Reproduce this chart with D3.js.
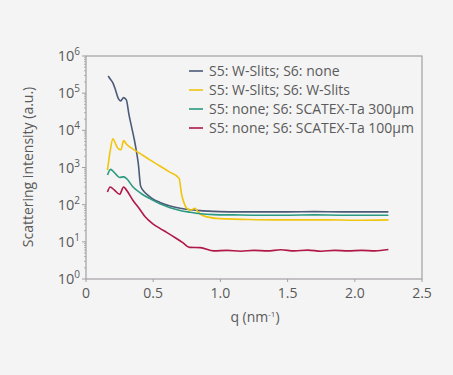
<!DOCTYPE html>
<html>
<head>
<meta charset="utf-8">
<script src="https://cdn.jsdelivr.net/npm/d3@7"></script>
<style>
  body { margin: 0; background: #f4f4f4; }
  svg { display: block; }
  text { font-family: "Open Sans", "DejaVu Sans", sans-serif; fill: #5a5a5a; }
</style>
</head>
<body>
<div id="chart"></div>
<script>
// q values (nm^-1) and intensities
const seriesNames = [
    "S5: W-Slits; S6: none",
    "S5: W-Slits; S6: W-Slits",
    "S5: none; S6: SCATEX-Ta 300\u03BCm",
    "S5: none; S6: SCATEX-Ta 100\u03BCm"
];
const seriesColors = ["#4b5b78", "#f1c40f", "#2b9a80", "#b01848"];

const wslitsNone = [
    [0.165, 2.9e5], [0.18, 2.4e5], [0.2, 1.9e5], [0.22, 1.2e5], [0.24, 7.2e4], [0.258, 6.2e4],
    [0.28, 7.6e4], [0.3, 6.6e4], [0.32, 2.6e4], [0.34, 1.2e4], [0.36, 5500], [0.376, 2600],
    [0.39, 1200], [0.406, 320], [0.43, 230], [0.46, 180], [0.5, 140], [0.55, 115],
    [0.62, 93], [0.7, 80], [0.78, 73], [0.85, 69], [0.95, 66], [1.1, 64], [1.3, 64],
    [1.5, 64], [1.7, 65], [1.9, 64], [2.1, 64], [2.25, 64]
];
const wslitsWslits = [
    [0.16, 850], [0.18, 2800], [0.2, 5900], [0.22, 4300], [0.24, 3200], [0.26, 3000],
    [0.28, 5300], [0.3, 4300], [0.34, 3300], [0.4, 2400], [0.475, 1600], [0.55, 1100],
    [0.62, 760], [0.693, 510], [0.71, 200], [0.73, 110], [0.75, 80], [0.78, 72],
    [0.81, 80], [0.83, 66], [0.85, 56], [0.9, 47], [1.0, 42], [1.2, 40], [1.4, 39],
    [1.6, 39], [1.8, 39], [2.0, 38], [2.25, 39]
];
const scatex300 = [
    [0.16, 630], [0.183, 890], [0.21, 740], [0.25, 540], [0.28, 560], [0.3, 510],
    [0.35, 300], [0.41, 200], [0.475, 145], [0.55, 105], [0.62, 84], [0.7, 70],
    [0.77, 63], [0.85, 57], [0.95, 54], [1.1, 53], [1.3, 52], [1.5, 52], [1.7, 53],
    [1.9, 52], [2.1, 52], [2.25, 52]
];
const scatex100 = [
    [0.16, 220], [0.18, 300], [0.21, 250], [0.25, 190], [0.28, 300], [0.3, 250],
    [0.35, 130], [0.4, 75], [0.44, 47], [0.5, 30], [0.55, 23], [0.6, 18], [0.67, 12.5],
    [0.72, 9.5], [0.77, 7.1], [0.85, 7.0], [0.95, 5.7], [1.05, 5.9], [1.15, 5.6],
    [1.25, 5.9], [1.35, 5.7], [1.45, 6.1], [1.55, 5.7], [1.65, 6.0], [1.75, 5.6],
    [1.85, 5.9], [1.95, 5.7], [2.05, 5.9], [2.15, 5.7], [2.25, 6.2]
];
const allSeries = [wslitsNone, wslitsWslits, scatex300, scatex100];

const xTicks = [0, 0.5, 1.0, 1.5, 2.0, 2.5];
const xTickLabels = ["0", "0.5", "1.0", "1.5", "2.0", "2.5"];
const yExponents = [0, 1, 2, 3, 4, 5, 6];

const width = 453, height = 375;
const margin = { top: 56, right: 31, bottom: 96, left: 86 };

const svg = d3.select("#chart").append("svg")
    .attr("width", width)
    .attr("height", height);

svg.append("rect").attr("width", width).attr("height", height).attr("fill", "#f4f4f4");

const x = d3.scaleLinear().domain([0, 2.5]).range([margin.left, width - margin.right]);
const y = d3.scaleLog().domain([1, 1e6]).range([height - margin.bottom, margin.top]);

// frame
svg.append("rect")
    .attr("x", margin.left).attr("y", margin.top)
    .attr("width", x(2.5) - x(0)).attr("height", y(1) - y(1e6))
    .attr("fill", "none").attr("stroke", "#a39fa3").attr("stroke-width", 1.2);

// y axis minor ticks
const minor = [];
for (let e = 0; e < 6; e++) for (let m = 2; m <= 9; m++) minor.push(m * Math.pow(10, e));
svg.selectAll(".minor").data(minor).enter().append("line")
    .attr("x1", margin.left - 2).attr("x2", margin.left)
    .attr("y1", d => y(d)).attr("y2", d => y(d))
    .attr("stroke", "#a39fa3").attr("stroke-width", 0.8);

svg.selectAll(".major").data(yExponents).enter().append("line")
    .attr("x1", margin.left - 4).attr("x2", margin.left)
    .attr("y1", d => y(Math.pow(10, d))).attr("y2", d => y(Math.pow(10, d)))
    .attr("stroke", "#a39fa3");

const yLab = svg.selectAll(".ylab").data(yExponents).enter().append("text")
    .attr("x", margin.left - 6)
    .attr("y", d => y(Math.pow(10, d)) + 5)
    .attr("text-anchor", "end")
    .attr("font-size", 14.5);
yLab.append("tspan").text("10");
yLab.append("tspan").attr("dy", -6).attr("font-size", 10).text(d => d);

// x axis ticks
svg.selectAll(".xtick").data(xTicks).enter().append("line")
    .attr("x1", d => x(d)).attr("x2", d => x(d))
    .attr("y1", y(1)).attr("y2", y(1) + 3)
    .attr("stroke", "#a39fa3");
svg.selectAll(".xlab").data(xTicks).enter().append("text")
    .attr("x", d => x(d)).attr("y", y(1) + 19)
    .attr("text-anchor", "middle").attr("font-size", 14)
    .text((d, i) => xTickLabels[i]);

// axis titles
const xt = svg.append("text").attr("x", 255).attr("y", 322)
    .attr("text-anchor", "middle").attr("font-size", 14);
xt.append("tspan").text("q (nm");
xt.append("tspan").attr("dy", -5).attr("font-size", 8).text("-1");
xt.append("tspan").attr("dy", 5).text(")");

svg.append("text")
    .attr("transform", "translate(33,167) rotate(-90)")
    .attr("text-anchor", "middle").attr("font-size", 14)
    .text("Scattering intensity (a.u.)");

// lines
const line = d3.line().x(d => x(d[0])).y(d => y(d[1])).curve(d3.curveMonotoneX);
allSeries.forEach((s, i) => {
    svg.append("path").datum(s)
        .attr("d", line)
        .attr("fill", "none")
        .attr("stroke", seriesColors[i])
        .attr("stroke-width", 1.6);
});

// legend
const legend = svg.selectAll(".legend").data(seriesNames).enter().append("g")
    .attr("transform", (d, i) => `translate(189,${71 + i * 19})`);
legend.append("line").attr("x1", 0).attr("x2", 14)
    .attr("stroke", (d, i) => seriesColors[i]).attr("stroke-width", 1.6);
legend.append("text").attr("x", 20).attr("y", 5).attr("font-size", 14).text(d => d);
</script>
</body>
</html>
